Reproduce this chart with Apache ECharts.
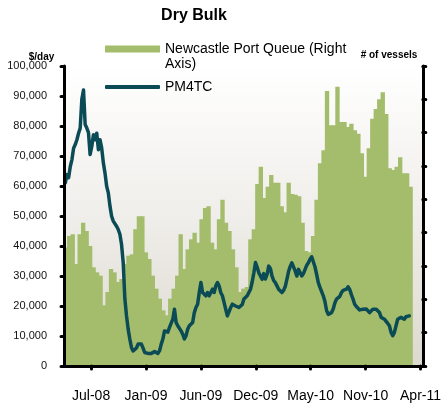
<!DOCTYPE html>
<html>
<head>
<meta charset="utf-8">
<script src="https://cdn.jsdelivr.net/npm/echarts@6/dist/echarts.min.js"></script>
<style>
html,body{margin:0;padding:0;background:#ffffff;}
#chart{width:444px;height:403px;}
</style>
</head>
<body>
<div id="chart"></div>
<script>
// ---- data ----
const titleText = 'Dry Bulk';
const leftAxisName = '$/day';
const rightAxisName = '# of vessels';
const queueName = 'Newcastle Port Queue (Right\nAxis)';
const lineName = 'PM4TC';

const tickDates = ['2008-07-25','2009-01-07','2009-06-22','2009-12-05','2010-05-20','2010-11-02','2011-04-17'];
const tickLabels = ['Jul-08','Jan-09','Jun-09','Dec-09','May-10','Nov-10','Apr-11'];
const axisStartDate = '2008-05-04';
const axisEndDate = '2011-04-24';

// PM4TC ($/day), one reading every 5 days from the start date
const pm4tcStartDate = '2008-05-08';
const pm4tcStepDays = 5;
const pm4tcValues = [
  61000,63800,62800,66500,68800,72600,73800,75400,77600,79300,
  89000,92000,80500,79300,77800,70500,73200,77100,75400,77600,
  72100,75400,72600,67700,64300,59900,57700,53300,49900,48300,
  47700,46600,45500,43900,40500,34500,22500,16700,12300,9000,
  6200,5000,5000,6000,7300,7800,7300,6000,4500,4200,
  4200,4500,4200,4200,4800,4200,4200,5100,7300,9000,
  11700,11700,11300,12900,13400,15600,18900,14500,13400,12900,
  11700,10600,9000,10100,12300,13400,14000,14500,17800,19500,
  20600,24500,27800,24500,24500,23400,24500,23400,24500,25600,
  24500,26700,27800,26700,24500,23400,21200,18900,16700,17300,
  19500,20600,20300,20000,19500,
  19500,18900,20500,22300,22800,23400,24500,25600,28000,31000,
  34500,33000,31100,31100,28900,30800,29000,30500,33300,32500,
  30000,28500,27800,26700,25600,25000,24500,25200,26500,28900,
  31500,33200,34400,35000,31700,30000,32200,32800,30000,30800,
  32200,33600,34400,35600,36400,35800,33000,30500,27800,26200,
  24800,23400,21500,18500,17200,17200,17800,19000,21000,22300,
  22600,23200,24500,25200,25600,25600,26400,25500,23800,22300,
  20600,19800,19500,18700,18700,18900,18500,19000,19500,17800,
  17500,18900,18900,18900,18300,17800,16200,15600,15600,14900,
  14200,13400,11200,10100,11200,13400,15600,15000,16200,15900,
  15600,16400,16700,16700
];

// Newcastle port queue (# of vessels), one bar per period; last periods without data
const queueValues = [
  35.6,39.0,39.5,30.6,39.5,43.0,40.5,36.0,29.6,28.1,
  27.1,18.2,22.2,29.1,28.1,25.2,26.1,30.6,33.1,33.5,
  41.0,44.9,44.9,34.1,32.1,27.1,23.2,20.2,16.7,15.2,
  20.2,23.2,27.1,39.5,29.1,35.0,38.0,40.0,37.0,44.0,
  47.4,47.9,37.0,35.0,44.0,49.9,43.0,40.5,35.0,29.6,
  22.2,23.2,23.7,38.0,41.0,54.6,59.8,50.4,53.8,57.3,
  55.0,55.0,47.9,46.1,55.0,51.6,51.4,50.9,43.0,34.5,
  34.1,39.0,49.9,60.8,64.7,82.5,72.2,72.2,83.8,73.2,
  73.2,71.7,72.7,70.7,69.7,63.8,56.8,65.3,74.2,77.1,
  80.0,82.1,75.6,59.3,58.8,59.8,62.6,57.8,57.8,53.8,
  null,null,null
];

// ---- helpers ----
const dayMs = 86400000;
function toUTC(s){ const p = s.split('-').map(Number); return Date.UTC(p[0], p[1]-1, p[2]); }
function dayOf(s){ return Math.round((toUTC(s) - toUTC(axisStartDate)) / dayMs); }

const tickDays = tickDates.map(dayOf);
const labelByDay = {};
tickDays.forEach((d,i)=>{ labelByDay[d] = tickLabels[i]; });
const pm4tcStart = dayOf(pm4tcStartDate);
const pm4tcData = pm4tcValues.map((v,i)=>[pm4tcStart + i*pm4tcStepDays, v]);
const queueSlots = queueValues.map((v,i)=>String(i));

const FONT = '"Liberation Sans", Arial, sans-serif';
const BAR_COLOR = '#a4bd6c';
const LINE_COLOR = '#0b4b55';
const axisLineStyle = {color:'#000000', width:3, cap:'round'};

const chart = echarts.init(document.getElementById('chart'), null, {renderer:'canvas'});
chart.setOption({
  animation:false,
  backgroundColor:'#ffffff',
  textStyle:{fontFamily:FONT},
  grid:{
    left:64, right:19, top:66, bottom:35.5, show:true, borderWidth:0,
    backgroundColor:{type:'linear',x:0,y:0,x2:0,y2:1,colorStops:[
      {offset:0,color:'#ffffff'},{offset:0.5,color:'#f0eeea'},{offset:1,color:'#dcd9cf'}]}
  },
  graphic:[
    {type:'text', z:20, style:{text:titleText, x:194, y:16, align:'center', verticalAlign:'middle', font:'bold 16px '+FONT, fill:'#000'}},
    {type:'text', z:20, style:{text:leftAxisName, x:41.5, y:57.5, align:'center', verticalAlign:'middle', font:'bold 10px '+FONT, fill:'#000'}},
    {type:'text', z:20, style:{text:rightAxisName, x:389, y:55, align:'center', verticalAlign:'middle', font:'bold 10px '+FONT, fill:'#000'}}
  ],
  legend:[
    {data:[queueName], left:105, top:26.5, padding:0, itemWidth:55, itemHeight:7, icon:'rect', selectedMode:false,
     formatter:(name)=>'\n'+name,
     textStyle:{fontSize:14, lineHeight:15, color:'#000', fontFamily:FONT}},
    {data:[{name:lineName, icon:'roundRect'}], left:105, top:79.5, padding:0, itemWidth:55, itemHeight:4, selectedMode:false,
     itemStyle:{color:LINE_COLOR},
     textStyle:{fontSize:14, lineHeight:15, color:'#000', fontFamily:FONT}}
  ],
  xAxis:[
    {type:'value', min:0, max:dayOf(axisEndDate), z:10,
     axisLine:{show:true, onZero:false, lineStyle:axisLineStyle},
     axisTick:{show:true, customValues:tickDays, length:3, lineStyle:{color:'#000', width:3, cap:'round'}},
     axisLabel:{show:true, customValues:tickDays, formatter:(v)=>labelByDay[Math.round(v)]||'', fontSize:14, color:'#000', margin:23, fontFamily:FONT},
     splitLine:{show:false}},
    {type:'category', data:queueSlots, show:false, boundaryGap:true}
  ],
  yAxis:[
    {type:'value', min:0, max:100000, interval:10000, z:10,
     axisLine:{show:true, onZero:false, lineStyle:axisLineStyle},
     axisTick:{show:true, length:3, lineStyle:{color:'#000', width:3, cap:'round'}},
     axisLabel:{fontSize:11, color:'#111', margin:17, fontFamily:FONT, formatter:(v)=>v.toLocaleString('en-US')},
     splitLine:{show:false}},
    {type:'value', min:0, max:90, interval:10, position:'right', z:10,
     axisLine:{show:true, onZero:false, lineStyle:axisLineStyle},
     axisTick:{show:true, length:3, lineStyle:{color:'#000', width:3, cap:'round'}},
     axisLabel:{show:false},
     splitLine:{show:false}}
  ],
  series:[
    {name:queueName, type:'bar', xAxisIndex:1, yAxisIndex:1, data:queueValues,
     barWidth:'125%', barGap:'-100%',
     itemStyle:{color:BAR_COLOR}, z:2},
    {name:lineName, type:'line', xAxisIndex:0, yAxisIndex:0, data:pm4tcData,
     symbol:'none', showSymbol:false, lineStyle:{color:LINE_COLOR, width:3.5, join:'round', cap:'round'},
     itemStyle:{color:LINE_COLOR}, z:3}
  ]
});
</script>
</body>
</html>
